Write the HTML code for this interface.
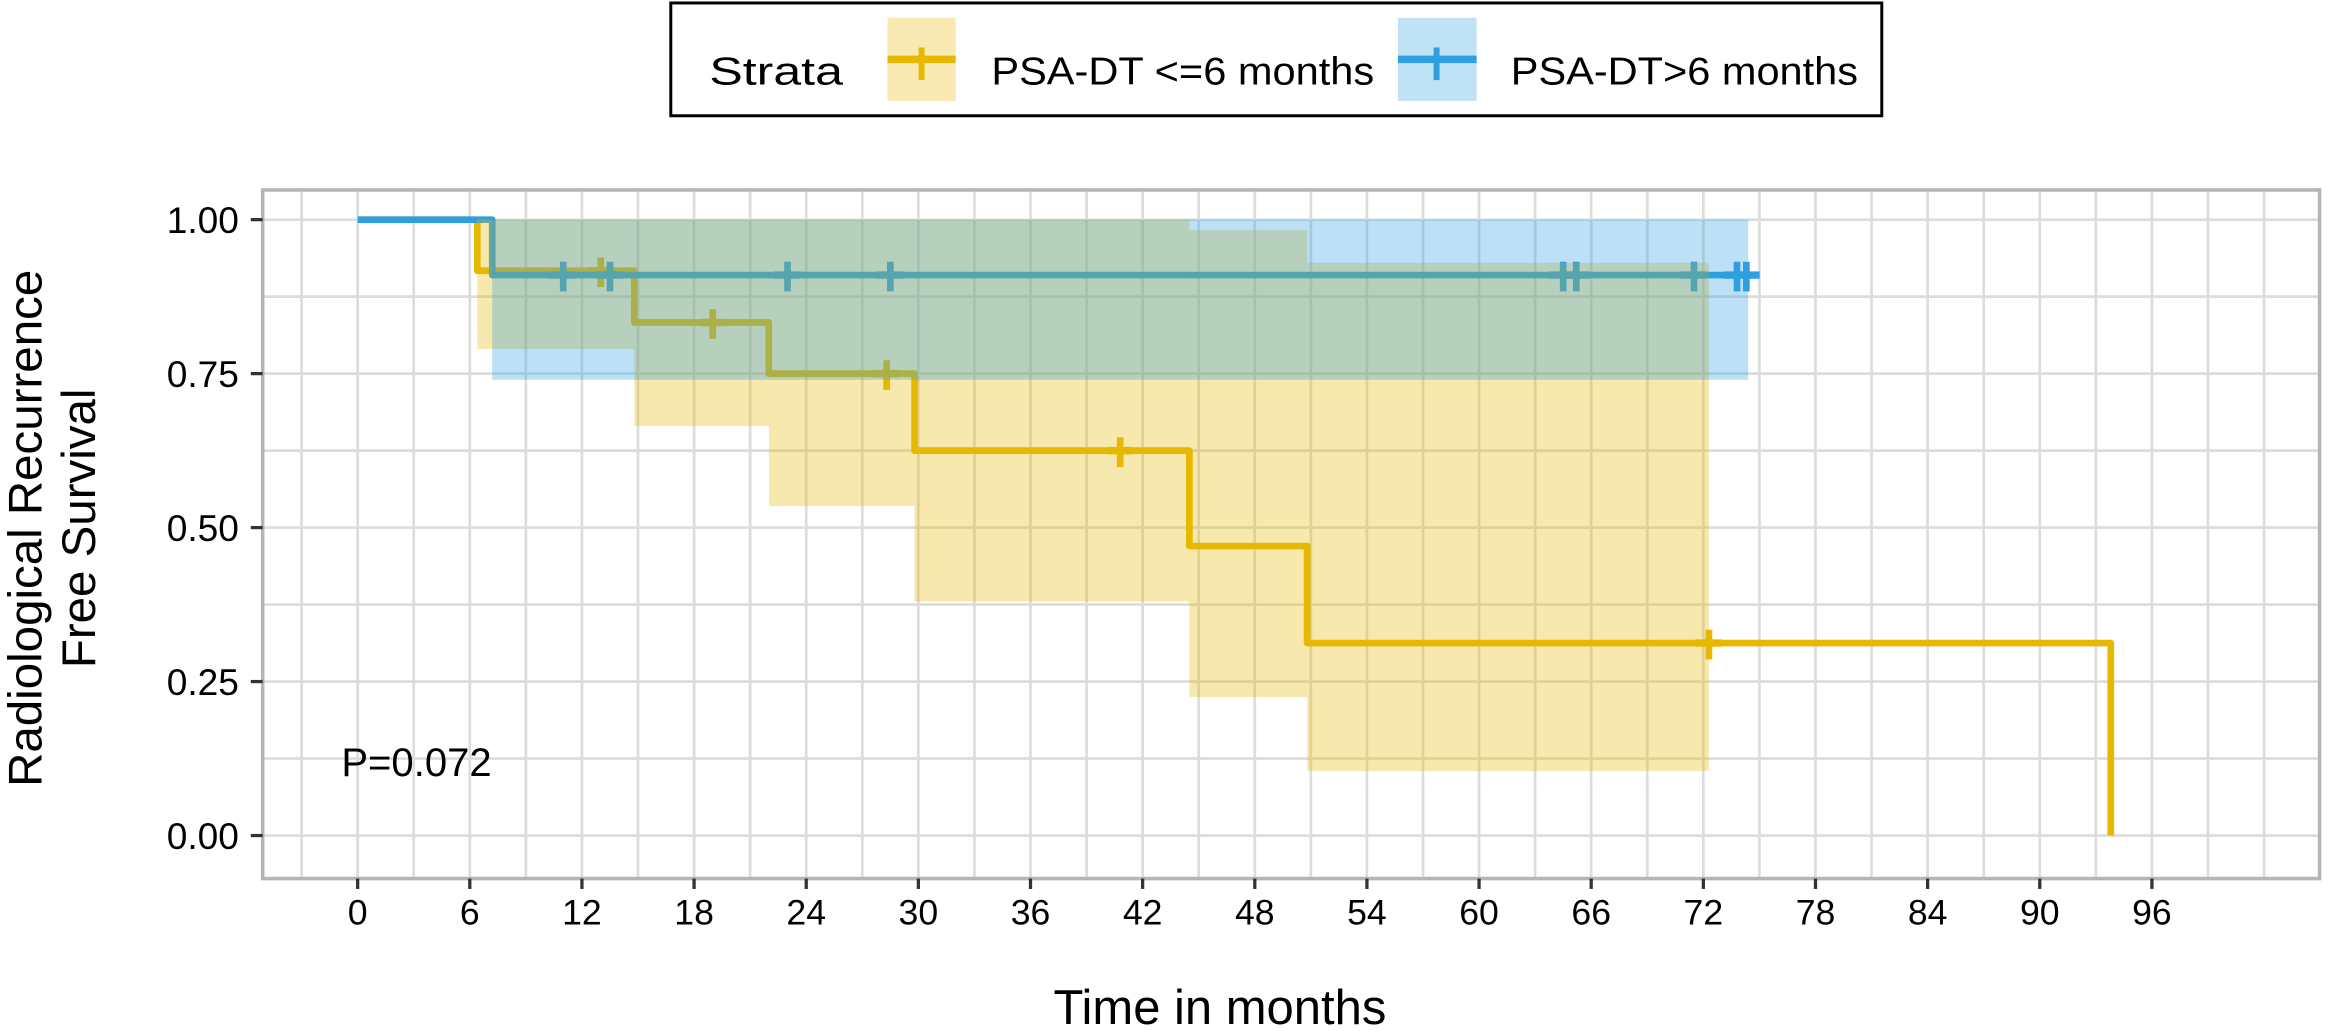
<!DOCTYPE html>
<html><head><meta charset="utf-8"><style>
html,body{margin:0;padding:0;background:#fff;}
svg{display:block;font-family:"Liberation Sans",Arial,sans-serif;}
</style></head><body>
<svg id="chart" width="2327" height="1031" viewBox="0 0 1568 694.7" xmlns="http://www.w3.org/2000/svg">
<g id="legend">
  <rect x="452" y="2" width="816" height="76" fill="#fff" stroke="#000" stroke-width="2"/>
  <text x="478" y="57" font-size="26" textLength="90" lengthAdjust="spacingAndGlyphs">Strata</text>
  <g>
    <rect x="598" y="12" width="46" height="56" fill="#E7B800" fill-opacity="0.3"/>
    <line x1="598" y1="40" x2="644" y2="40" stroke="#E7B800" stroke-width="5"/>
    <line x1="621" y1="32" x2="621" y2="54" stroke="#E7B800" stroke-width="4"/>
    <text x="668" y="57" font-size="26" textLength="258" lengthAdjust="spacingAndGlyphs">PSA-DT &lt;=6 months</text>
  </g>
  <g>
    <rect x="942" y="12" width="53" height="56" fill="#2E9FDF" fill-opacity="0.3"/>
    <line x1="942" y1="40" x2="995" y2="40" stroke="#2E9FDF" stroke-width="5"/>
    <line x1="968" y1="32" x2="968" y2="54" stroke="#2E9FDF" stroke-width="4"/>
    <text x="1018" y="57" font-size="26" textLength="234" lengthAdjust="spacingAndGlyphs">PSA-DT&gt;6 months</text>
  </g>
</g>
<g id="panel"></g>
<text x="28" y="356" font-size="32" text-anchor="middle" transform="rotate(-90 28 356)">Radiological Recurrence</text>
<text x="64" y="356" font-size="32" text-anchor="middle" transform="rotate(-90 64 356)">Free Survival</text>
<text x="822" y="690" font-size="33" text-anchor="middle">Time in months</text>
<text x="230" y="523" font-size="27">P=0.072</text>
</svg>
<script>
// ---- data ----
const xTicks = [0,6,12,18,24,30,36,42,48,54,60,66,72,78,84,90,96];
const yTicks = [0,0.25,0.5,0.75,1];
const yTickLabels = ["0.00","0.25","0.50","0.75","1.00"];
// PSA-DT <=6 months
const lowTimes = [0,6.4,14.8,22,29.8,44.5,50.8,93.8];
const lowSurv  = [1,0.917,0.833,0.75,0.625,0.47,0.3125,0];
const lowLower = [1,0.79,0.665,0.535,0.38,0.225,0.105];
const lowUpper = [1,1,1,1,1,0.983,0.93];
const lowBandEnd = 72.3;
const lowEnd = 93.8;
const lowCensor = [13,19,28.3,40.8,72.3];
// PSA-DT >6 months
const highTimes = [0,7.2];
const highSurv  = [1,0.91];
const highLower = [1,0.74];
const highUpper = [1,1];
const highEnd = 74.4;
const highCensor = [11,13.5,23,28.5,64.5,65.2,71.5,73.8,74.3];

// ---- scales ----
const X0=177, X1=1563, Y0=128, Y1=592;
const xs = t => 241 + t*12.594;
const ys = s => 563 - s*415;
const NS="http://www.w3.org/2000/svg";
const panel=document.getElementById('panel');
function mk(tag,attrs,parent){const e=document.createElementNS(NS,tag);for(const k in attrs)e.setAttribute(k,attrs[k]);(parent||panel).appendChild(e);return e;}

mk('rect',{x:X0,y:Y0,width:X1-X0,height:Y1-Y0,fill:'#fff'});
const grid=mk('g',{});


for(let t=-3;t<=105;t+=3){const x=xs(t);if(x<=X0||x>=X1)continue;mk('line',{x1:x,x2:x,y1:Y0,y2:Y1,stroke:'#DCDCDC','stroke-width':1.8},grid);}
for(let s=-0.125;s<=1.05;s+=0.125){const y=ys(s);if(y<=Y0||y>=Y1)continue;mk('line',{x1:X0,x2:X1,y1:y,y2:y,stroke:'#DCDCDC','stroke-width':1.8},grid);}

function band(times,lower,upper,end,color,name){
  const g=mk('g',{});
  
  
  for(let i=0;i<lower.length;i++){
    const a=times[i], b=(i+1<lower.length)?times[i+1]:end;
    if(upper[i]===lower[i])continue;
    mk('rect',{x:xs(a),y:ys(upper[i]),width:xs(Math.min(b,end))-xs(a),height:ys(lower[i])-ys(upper[i]),fill:color,'fill-opacity':0.32},g);
  }
}
function curve(times,surv,end,color,name){
  let d='M'+xs(times[0])+','+ys(surv[0]);
  for(let i=1;i<times.length;i++){d+=' H'+xs(times[i])+' V'+ys(surv[i]);}
  d+=' H'+xs(end);
  const p=mk('path',{d:d,fill:'none',stroke:color,'stroke-width':4.5,'stroke-linejoin':'round'});
  
  
}
function survAt(times,surv,t){let s=surv[0];for(let i=0;i<times.length;i++){if(times[i]<=t)s=surv[i];}return s;}
function censors(list,times,surv,color,name){
  list.forEach(t=>{
    const x=xs(t),y=ys(survAt(times,surv,t));
    const g=mk('g',{});
    
    
    mk('line',{x1:x-9,x2:x+9,y1:y,y2:y,stroke:color,'stroke-width':5},g);
    mk('line',{x1:x,x2:x,y1:y-9,y2:y+11,stroke:color,'stroke-width':4.5},g);
  });
}
curve(lowTimes,lowSurv,lowEnd,'#E7B800','curve-psa-dt-le-6');
censors(lowCensor,lowTimes,lowSurv,'#E7B800','censor-mark-psa-dt-le-6');
curve(highTimes,highSurv,highEnd+0.6,'#2E9FDF','curve-psa-dt-gt-6');
censors(highCensor,highTimes,highSurv,'#2E9FDF','censor-mark-psa-dt-gt-6');
band(lowTimes,lowLower,lowUpper,lowBandEnd,'#E7B800','ci-band-psa-dt-le-6');
band(highTimes,highLower,highUpper,highEnd,'#2E9FDF','ci-band-psa-dt-gt-6');

const fr=mk('rect',{x:X0,y:Y0,width:X1-X0,height:Y1-Y0,fill:'none',stroke:'#B5B5B5','stroke-width':2.4});


xTicks.forEach(t=>{
  const x=xs(t);
  mk('line',{x1:x,x2:x,y1:Y1,y2:Y1+7,stroke:'#333','stroke-width':2.2});
  const tx=mk('text',{x:x,y:Y1+31,'font-size':24,'text-anchor':'middle'});
  tx.textContent=t;
  
  
});
yTicks.forEach((s,i)=>{
  const y=ys(s);
  mk('line',{x1:X0-8,x2:X0,y1:y,y2:y,stroke:'#333','stroke-width':2.2});
  const tx=mk('text',{x:X0-16,y:y+9,'font-size':25,'text-anchor':'end'});
  tx.textContent=yTickLabels[i];
  
  
});
</script>
</body></html>
